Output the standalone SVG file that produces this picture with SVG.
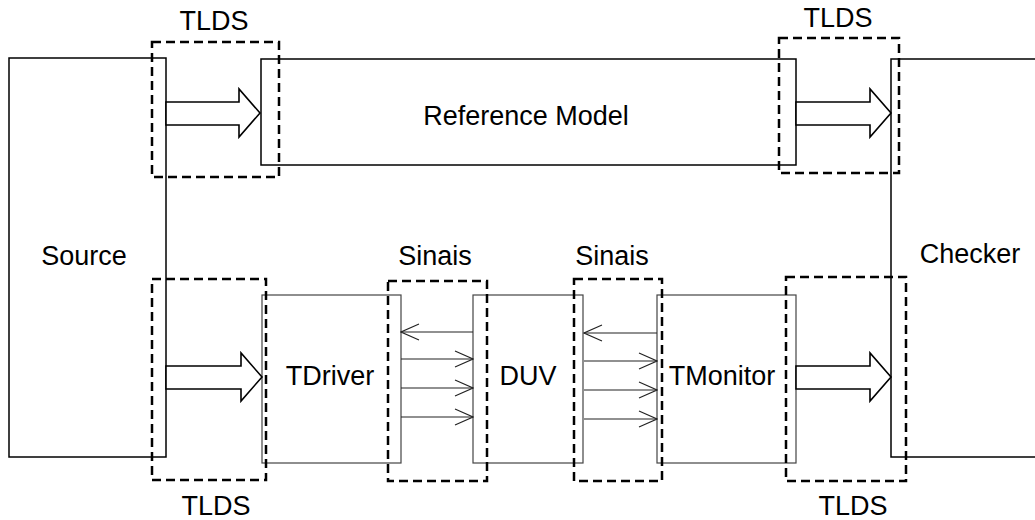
<svg xmlns="http://www.w3.org/2000/svg" width="1035" height="520" viewBox="0 0 1035 520">
<style>
text{font-family:"Liberation Sans",Arial,sans-serif;font-size:27px;fill:#000;text-anchor:middle}
.box{fill:#fff;stroke:#000;stroke-width:1.5}
.gbox{fill:#fff;stroke:#444;stroke-width:1.2}
.dash{fill:none;stroke:#000;stroke-width:2.5;stroke-dasharray:9 5}
.big{fill:#fff;stroke:#000;stroke-width:1.6;stroke-linejoin:miter}
.sig{fill:none;stroke:#222;stroke-width:1.1}
</style>
<defs>
<marker id="v" viewBox="0 0 20 20" refX="19" refY="10" markerWidth="20" markerHeight="20" markerUnits="userSpaceOnUse" orient="auto">
<path d="M1,2 L19,10 L1,18" fill="none" stroke="#222" stroke-width="1.1"/>
</marker>
</defs>
<g id="source"><rect class="box" x="9" y="58" width="157" height="399"/><text x="84" y="265">Source</text></g>
<g id="reference-model"><rect class="box" x="261" y="59" width="535" height="106"/><text x="526" y="125">Reference Model</text></g>
<g id="checker"><rect class="box" x="891" y="59" width="160" height="398"/><text x="970" y="263">Checker</text></g>
<g id="tdriver"><rect class="gbox" x="262" y="295" width="139" height="168"/><text x="330" y="385">TDriver</text></g>
<g id="duv"><rect class="gbox" x="473" y="295" width="110" height="168"/><text x="528" y="385">DUV</text></g>
<g id="tmonitor"><rect class="gbox" x="657" y="295" width="139" height="168"/><text x="722" y="385">TMonitor</text></g>
<g id="connectors">
<path class="big" d="M166,102 H239 V89 L260,113 L239,137 V125 H166 Z"/>
<path class="big" d="M796,102 H870 V89 L891,113 L870,137 V125 H796 Z"/>
<path class="big" d="M166,366 H241 V353 L262,377 L241,401 V389 H166 Z"/>
<path class="big" d="M796,366 H870 V353 L891,377 L870,401 V389 H796 Z"/>
<line class="sig" x1="473" y1="332" x2="401" y2="332" marker-end="url(#v)"/>
<line class="sig" x1="401" y1="359" x2="473" y2="359" marker-end="url(#v)"/>
<line class="sig" x1="401" y1="388" x2="473" y2="388" marker-end="url(#v)"/>
<line class="sig" x1="401" y1="417" x2="473" y2="417" marker-end="url(#v)"/>
<line class="sig" x1="657" y1="333" x2="584" y2="333" marker-end="url(#v)"/>
<line class="sig" x1="584" y1="361" x2="657" y2="361" marker-end="url(#v)"/>
<line class="sig" x1="584" y1="390" x2="657" y2="390" marker-end="url(#v)"/>
<line class="sig" x1="584" y1="419" x2="657" y2="419" marker-end="url(#v)"/>
</g>
<g id="tlds-top-left"><rect class="dash" x="152" y="42" width="127" height="135"/><text x="214" y="30">TLDS</text></g>
<g id="tlds-top-right"><rect class="dash" x="779" y="38" width="120" height="135"/><text x="838" y="27">TLDS</text></g>
<g id="tlds-bottom-left"><rect class="dash" x="152" y="279" width="114" height="201"/><text x="216" y="515">TLDS</text></g>
<g id="sinais-1"><rect class="dash" x="388" y="281" width="99" height="200"/><text x="435" y="265">Sinais</text></g>
<g id="sinais-2"><rect class="dash" x="574" y="279" width="88" height="202"/><text x="612" y="265">Sinais</text></g>
<g id="tlds-bottom-right"><rect class="dash" x="786" y="277" width="120" height="204"/><text x="853" y="515">TLDS</text></g>
</svg>
